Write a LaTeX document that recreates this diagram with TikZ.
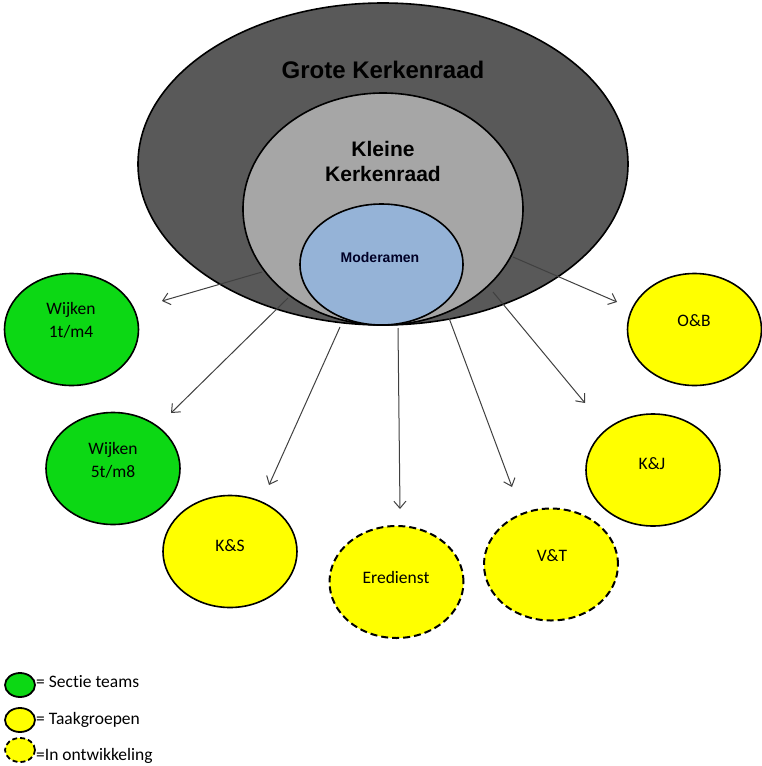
\documentclass[tikz,border=0pt]{standalone}
\usepackage{fontspec}
\setmainfont[Ligatures={NoCommon}]{Carlito}
\newfontfamily\arialf{Liberation Sans}
\usetikzlibrary{shapes.geometric,arrows.meta}
\definecolor{bigc}{HTML}{595959}
\definecolor{smallc}{HTML}{A6A6A6}
\definecolor{modc}{HTML}{95B3D7}
\definecolor{greenc}{HTML}{0CD814}
\definecolor{yellowc}{HTML}{FFFF00}
\definecolor{arrowc}{HTML}{404040}
\begin{document}
\begin{tikzpicture}[x=1pt,y=-1pt,
  oval/.style={ellipse, draw=black, line width=1.6pt, inner sep=0pt},
  bubble/.style={oval, minimum width=134pt, minimum height=112pt},
  sectie/.style={bubble, fill=greenc},
  taak/.style={bubble, fill=yellowc},
  ontw/.style={bubble, fill=yellowc, dash pattern=on 7pt off 4pt, line width=2pt},
  btext/.style={font=\fontsize{17.5}{23}\selectfont, align=center, inner sep=0pt},
  legtext/.style={font=\fontsize{17.5}{19}\selectfont, anchor=west, inner sep=0pt},
  conn/.style={draw=arrowc, line width=1pt, -{Straight Barb[length=7pt,width=12pt,line width=1pt]}}
]
\useasboundingbox (0,0) rectangle (762,766);

% central ellipses
\node[oval, fill=bigc, minimum width=490pt, minimum height=322pt] (grote) at (383,164) {};
\node[oval, fill=smallc, minimum width=280pt, minimum height=232pt] (kleine) at (383,209) {};
\node[oval, fill=modc, minimum width=163pt, minimum height=121pt] (mod) at (381.5,264.5) {};

\node[font=\arialf\bfseries\fontsize{24}{28}\selectfont, inner sep=0pt] (groteT) at (383,70) {Grote Kerkenraad};
\node[font=\arialf\bfseries\fontsize{21}{25}\selectfont, align=center, inner sep=0pt] (kleineT) at (383,161) {Kleine\\Kerkenraad};
\node[font=\arialf\bfseries\fontsize{14}{16}\selectfont, inner sep=0pt, text=black!85!blue] (modT) at (380,257) {Moderamen};

% bubbles
\node[sectie] (w1) at (71.5,329.5) {};
\node[sectie] (w2) at (113,468.5) {};
\node[taak] (ks) at (230,551.5) {};
\node[ontw] (ered) at (396.5,582) {};
\node[ontw] (vt) at (551,564.5) {};
\node[taak] (kj) at (653,470) {};
\node[taak] (ob) at (694.5,329.5) {};

\node[btext] (w1T) at (71,320.5) {Wijken\\1t/m4};
\node[btext] (w2T) at (113,460.5) {Wijken\\5t/m8};
\node[btext] (ksT) at (230,546) {K\&S};
\node[btext] (eredT) at (396,577) {Eredienst};
\node[btext] (vtT) at (552,556) {V\&T};
\node[btext] (kjT) at (652,464) {K\&J};
\node[btext] (obT) at (694,321) {O\&B};

% connector ends
\coordinate (s1) at (262,272);  \coordinate (e1) at (162,301);
\coordinate (s2) at (288,298);  \coordinate (e2) at (171,413);
\coordinate (s3) at (340,327);  \coordinate (e3) at (269,485);
\coordinate (s4) at (398,328);  \coordinate (e4) at (400,509);
\coordinate (s5) at (449,318);  \coordinate (e5) at (512,487);
\coordinate (s6) at (493,292);  \coordinate (e6) at (585,403);
\coordinate (s7) at (513,257);  \coordinate (e7) at (617,302);

\draw[conn] (s1) -- (e1);
\draw[conn] (s2) -- (e2);
\draw[conn] (s3) -- (e3);
\draw[conn] (s4) -- (e4);
\draw[conn] (s5) -- (e5);
\draw[conn] (s6) -- (e6);
\draw[conn] (s7) -- (e7);

% legend
\node[oval, fill=greenc, minimum width=30pt, minimum height=24pt, line width=1.8pt] (lg) at (20,685) {};
\node[oval, fill=yellowc, minimum width=30pt, minimum height=24pt, line width=1.8pt] (ly) at (20,720) {};
\node[oval, fill=yellowc, minimum width=30pt, minimum height=24pt, line width=1.8pt, dash pattern=on 5pt off 3pt] (ld) at (20,750) {};
\node[legtext] (lgT) at (36,682) {= Sectie teams};
\node[legtext] (lyT) at (36,720) {= Taakgroepen};
\node[legtext] (ldT) at (36,756) {=In ontwikkeling};
\end{tikzpicture}
\end{document}
